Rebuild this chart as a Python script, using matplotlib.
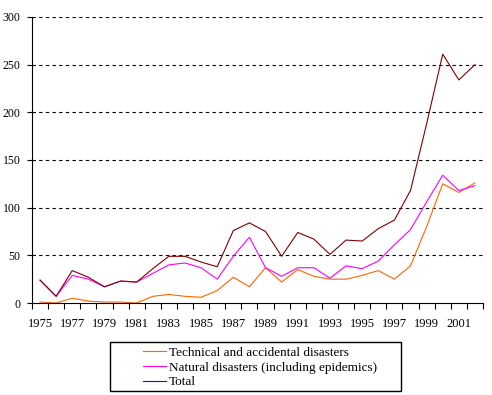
import matplotlib.pyplot as plt
from matplotlib.patches import Rectangle

plt.rcParams['font.family'] = ['Liberation Serif', 'DejaVu Serif']
plt.rcParams['font.size'] = 8

# data
years = list(range(1975, 2003))
technical = [1, 0, 5, 2, 1, 1, 0, 7, 9, 7, 6, 13, 27, 17,
             37, 22, 35, 28, 25, 25, 29, 34, 25, 39, 80, 125, 116, 126]
natural = [24, 7, 29, 25, 17, 23, 22, 31, 40, 42, 37, 25, 49, 69,
           37, 28, 37, 37, 26, 39, 36, 44, 61, 77, 106, 134, 118, 123]
total = [24, 7, 34, 27, 17, 23, 22, 36, 49, 49, 43, 38, 76, 84,
         75, 49, 74, 67, 51, 66, 65, 78, 87, 118, 188, 261, 234, 250]
yticks = [0, 50, 100, 150, 200, 250, 300]

fig = plt.figure(figsize=(4.92, 3.95), dpi=100)
ax = fig.add_axes([0.065, 0.2329, 0.9167, 0.7241])

x = list(range(len(years)))
ax.plot(x, technical, color='#FF6600', lw=0.8, label='Technical and accidental disasters')
ax.plot(x, natural, color='#FF00FF', lw=0.8, label='Natural disasters (including epidemics)')
ax.plot(x, total, color='#800000', lw=0.8, label='Total')

ax.set_xlim(-0.5, len(years) - 0.5)
ax.set_ylim(0, 300)
ax.set_yticks(yticks)
for v in yticks[1:]:
    ax.axhline(v, color='black', lw=0.8, ls=(0, (3, 3)), zorder=0)

# labels every other year at category centers, ticks at boundaries
ax.set_xticks(x[::2])
ax.set_xticklabels([str(y) for y in years[::2]], fontsize=9)
ax.set_xticks([i - 0.5 for i in range(len(years) + 1)], minor=True)
ax.tick_params(axis='x', which='major', length=0, pad=10.5)
ax.tick_params(axis='x', which='minor', length=4, width=0.8, direction='out')
ax.tick_params(axis='y', length=3.6, width=0.8, direction='out', pad=4.5, labelsize=8.5)

for s in ['top', 'right']:
    ax.spines[s].set_visible(False)
for s in ['left', 'bottom']:
    ax.spines[s].set_linewidth(0.8)

fig.patches.append(Rectangle((109.5 / 492, 1 - 391 / 395), (401 - 109.5) / 492, (391 - 342) / 395,
                             transform=fig.transFigure, fill=False, ec='black', lw=1.0))
fig.legend(loc='upper left', bbox_to_anchor=(0.29, 0.122), frameon=False,
           borderpad=0, borderaxespad=0, handlelength=1.75, handletextpad=0.25,
           labelspacing=0.18, fontsize=9.5)

fig.savefig('out.png', dpi=100)
